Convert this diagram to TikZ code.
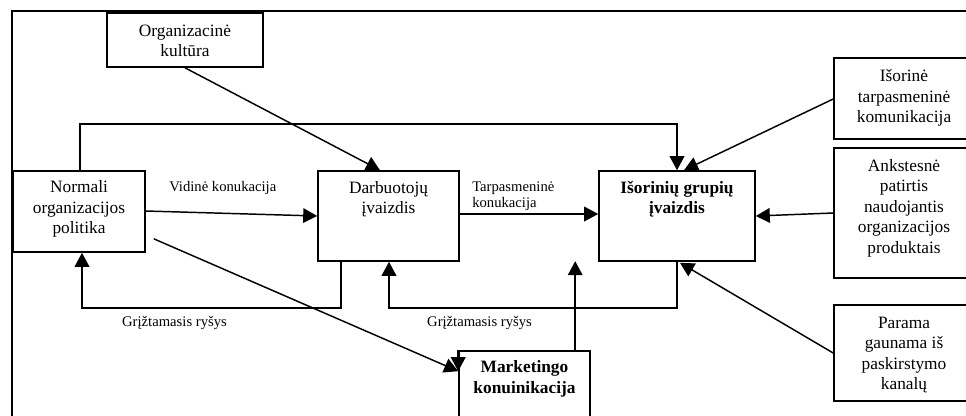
\documentclass[tikz,border=0pt]{standalone}
\usepackage{fontspec}
\setmainfont{Liberation Serif}
\usetikzlibrary{arrows.meta,calc}

\begin{document}
\begin{tikzpicture}[x=0.75pt,y=-0.75pt,
  box/.style={draw,line width=1.2pt,rectangle,inner sep=0pt,fill=none},
  boxtext/.style={align=center,inner sep=0pt,font=\fontsize{13}{15.4}\selectfont},
  lbl/.style={inner sep=0pt,font=\fontsize{11}{12.2}\selectfont},
  conn/.style={line width=1.1pt},
  arr/.style={conn,-{Triangle[length=10.5pt,width=11pt]}},
  frame/.style={line width=1.4pt}]

  % page area
  \clip (0,0) rectangle (966,415);
  \fill[white] (0,0) rectangle (966,415);

  % outer frame
  \draw[frame] (12,420) -- (12,11) -- (970,11);

  % boxes
  \node[box,minimum width=117pt,minimum height=40.5pt] (cult) at (185,40) {};
  \node[boxtext] (cult-t) at (185,41) {Organizacinė\\kultūra};

  \node[box,minimum width=99pt,minimum height=60.75pt] (norm) at (79,211.5) {};
  \node[boxtext] (norm-t) at (79,209) {Normali\\organizacijos\\politika};

  \node[box,minimum width=105.75pt,minimum height=67.5pt] (dar) at (388.5,216) {};
  \node[boxtext] (dar-t) at (388.5,199) {Darbuotojų\\įvaizdis};

  \node[box,minimum width=117pt,minimum height=67.5pt] (isg) at (677,216) {};
  \node[boxtext,font=\fontsize{13}{15.4}\selectfont\bfseries] (isg-t) at (677,199) {Išorinių grupių\\įvaizdis};

  \node[box,minimum width=105pt,minimum height=60.75pt] (ext) at (904,98.5) {};
  \node[boxtext] (ext-t) at (904,98) {Išorinė\\tarpasmeninė\\komunikacija};

  \node[box,minimum width=105pt,minimum height=97.5pt] (ank) at (904,213) {};
  \node[boxtext] (ank-t) at (904,208) {Ankstesnė\\patirtis\\naudojantis\\organizacijos\\produktais};

  \node[box,minimum width=105pt,minimum height=72pt] (par) at (904,353) {};
  \node[boxtext] (par-t) at (904,355) {Parama\\gaunama iš\\paskirstymo\\kanalų};

  \node[box,minimum width=98.25pt,minimum height=66.75pt] (mk) at (524.5,395.5) {};
  \node[boxtext,font=\fontsize{13}{15.4}\selectfont\bfseries] (mk-t) at (524.5,379) {Marketingo\\konuinikacija};

  % connectors
  \draw[arr] (cult.south) -- ($(dar.north)+(-8.5,0)$);
  \draw[arr] ($(norm.north)+(1,0)$) -- ++(0,-46) -| (isg.north);
  \draw[arr] ($(ext.west)+(0,0.5)$) -- ($(isg.north)+(7,0)$);
  \draw[arr] ($(norm.east)+(0,-0.5)$) -- (dar.west);
  \draw[arr] ($(dar.east)+(0,-2)$) -- ($(isg.west)+(0,-2)$);
  \draw[arr] (ank.west) -- (isg.east);
  \draw[arr] (par.west) -- ($(isg.south)+(3,1)$);
  \draw[arr] ($(norm.south east)+(8,-14)$) -- ($(mk.north west)+(0,21)$);
  \draw[arr] (mk.north west) -- ($(mk.north west)+(0,21)$);
  \coordinate (mk-up) at ($(mk.north west)+(117,0)$);
  \draw[arr] (mk-up) -- ++(0,-89);
  \draw[arr] ($(dar.south west)+(24,0)$) -- ++(0,46) -| ($(norm.south)+(3,0)$);
  \draw[arr] (isg.south) -- ++(0,46) -| ($(dar.south)+(0.5,0)$);

  % connector labels
  \node[lbl,anchor=west] (l-vid) at (169,188) {Vidinė konukacija};
  \node[lbl,anchor=west,align=left] (l-tarp) at (472,196) {Tarpasmeninė\\konukacija};
  \node[lbl] (l-gr1) at (174.5,323) {Grįžtamasis ryšys};
  \node[lbl] (l-gr2) at (479.5,323) {Grįžtamasis ryšys};
\end{tikzpicture}
\end{document}
